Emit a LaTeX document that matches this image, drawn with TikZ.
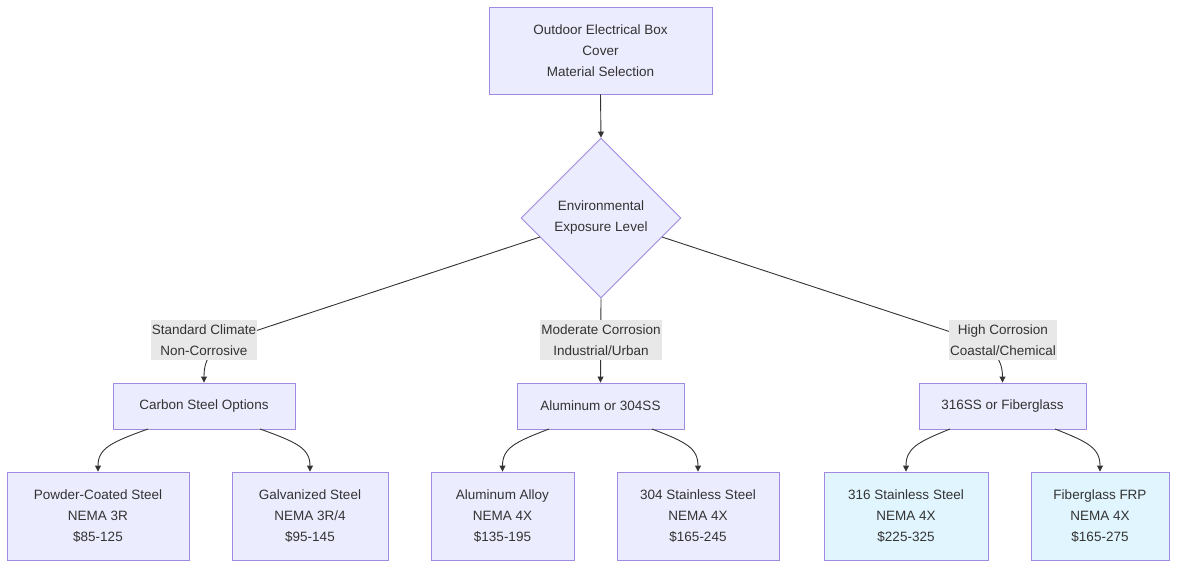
\documentclass[tikz,border=0pt]{standalone}
\usepackage{fontspec}
\setmainfont{Liberation Sans}
\usetikzlibrary{arrows.meta,shapes.geometric}
\definecolor{nfill}{HTML}{ECECFF}
\definecolor{nstroke}{HTML}{A08AE0}
\definecolor{bfill}{HTML}{E1F5FE}
\definecolor{lblbg}{HTML}{E8E8E8}
\definecolor{ink}{HTML}{333333}
\tikzset{
  txt/.style={text=ink, font=\fontsize{13.5}{21}\selectfont},
  box/.style={draw=nstroke, fill=nfill, line width=0.9pt, align=center, inner sep=0pt, txt},
  bluebox/.style={box, fill=bfill},
  dia/.style={draw=nstroke, fill=nfill, line width=0.9pt, diamond, aspect=1, inner sep=0pt,
    minimum width=160pt, minimum height=160pt, align=center, txt},
  lbl/.style={fill=lblbg, align=center, inner sep=1pt, txt},
  conn/.style={draw=ink, line width=0.9pt, -{Triangle[length=6pt,width=6pt]}},
}
\begin{document}
\begin{tikzpicture}[x=1pt,y=1pt]
\useasboundingbox (0,0) rectangle (1184,-572);
\node[box, minimum width=223pt, minimum height=87pt] (top) at (600.5,-50.5) {Outdoor Electrical Box\\Cover\\Material Selection};
\node[dia] (env) at (601,-218) {Environmental\\Exposure Level};
\node[box, minimum width=182pt, minimum height=46pt] (cs) at (204,-406) {Carbon Steel Options};
\node[box, minimum width=167pt, minimum height=46pt] (al) at (600.5,-406) {Aluminum or 304SS};
\node[box, minimum width=167pt, minimum height=46pt] (ss) at (1002.5,-406) {316SS or Fiberglass};
\node[box, minimum width=182pt, minimum height=88pt] (pc) at (98,-516) {Powder-Coated Steel\\NEMA 3R\\\$85-125};
\node[box, minimum width=156pt, minimum height=88pt] (gs) at (310,-516) {Galvanized Steel\\NEMA 3R/4\\\$95-145};
\node[box, minimum width=143pt, minimum height=88pt] (aa) at (502.5,-516) {Aluminum Alloy\\NEMA 4X\\\$135-195};
\node[box, minimum width=162pt, minimum height=88pt] (s304) at (698,-516) {304 Stainless Steel\\NEMA 4X\\\$165-245};
\node[bluebox, minimum width=164pt, minimum height=88pt] (s316) at (906,-516) {316 Stainless Steel\\NEMA 4X\\\$225-325};
\node[bluebox, minimum width=138pt, minimum height=88pt] (frp) at (1100,-516) {Fiberglass FRP\\NEMA 4X\\\$165-275};
% connectors
\draw[conn] (top.south) -- (env.north);
\coordinate (eL) at (540,-237);
\coordinate (eR) at (662,-237);
\draw[conn] (eL) -- (240,-336) .. controls (212,-346) and (204,-358) .. (cs.north);
\draw[conn] (env.south) -- (al.north);
\draw[conn] (eR) -- (963,-336) .. controls (992,-346) and (1002.5,-358) .. (ss.north);
\draw[conn] (148,-429) .. controls (112,-442) and (98,-448) .. (pc.north);
\draw[conn] (260,-429) .. controls (296,-442) and (310,-448) .. (gs.north);
\draw[conn] (549,-429) .. controls (515,-442) and (502.5,-448) .. (aa.north);
\draw[conn] (652,-429) .. controls (686,-442) and (698,-448) .. (s304.north);
\draw[conn] (950,-429) .. controls (918,-442) and (906,-448) .. (s316.north);
\draw[conn] (1055,-429) .. controls (1088,-442) and (1100,-448) .. (frp.north);
% edge labels
\node[lbl, minimum width=106pt, minimum height=40pt] (l1) at (204,-340) {Standard Climate\\Non-Corrosive};
\node[lbl, minimum width=122pt, minimum height=40pt] (l2) at (601,-340) {Moderate Corrosion\\Industrial/Urban};
\node[lbl, minimum width=108pt, minimum height=40pt] (l3) at (1003,-340) {High Corrosion\\Coastal/Chemical};
\end{tikzpicture}
\end{document}
